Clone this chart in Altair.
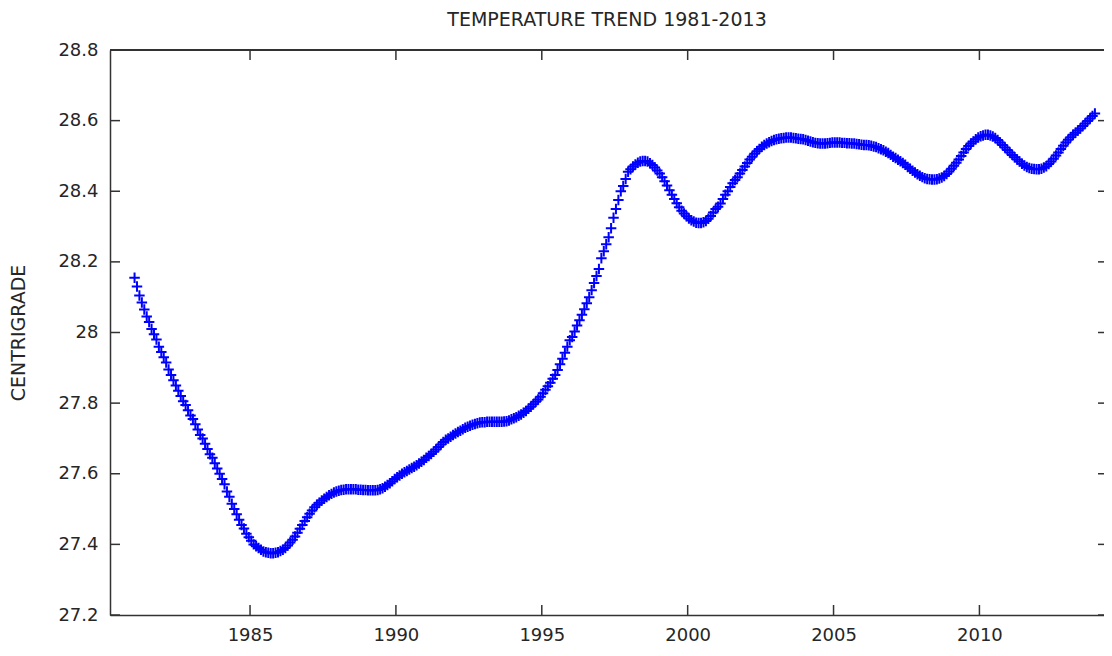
import altair as alt
import pandas as pd

# Monthly values, one row per year (Jan..Dec)
years = list(range(1981, 2014))
monthly = [
    [28.155, 28.13, 28.105, 28.085, 28.065, 28.045, 28.03, 28.01, 27.995, 27.98, 27.96, 27.945],  # 1981
    [27.93, 27.915, 27.895, 27.88, 27.865, 27.85, 27.835, 27.82, 27.805, 27.795, 27.78, 27.765],  # 1982
    [27.755, 27.74, 27.725, 27.71, 27.70, 27.685, 27.67, 27.655, 27.645, 27.63, 27.615, 27.60],  # 1983
    [27.585, 27.57, 27.55, 27.535, 27.515, 27.50, 27.485, 27.47, 27.455, 27.445, 27.43, 27.42],  # 1984
    [27.41, 27.40, 27.395, 27.39, 27.385, 27.38, 27.378, 27.376, 27.375, 27.375, 27.376, 27.378],  # 1985
    [27.381, 27.385, 27.39, 27.397, 27.405, 27.413, 27.422, 27.433, 27.444, 27.455, 27.466, 27.477],  # 1986
    [27.487, 27.496, 27.505, 27.512, 27.518, 27.524, 27.529, 27.534, 27.539, 27.543, 27.547, 27.55],  # 1987
    [27.552, 27.554, 27.555, 27.556, 27.556, 27.556, 27.556, 27.556, 27.555, 27.555, 27.554, 27.554],  # 1988
    [27.553, 27.553, 27.553, 27.553, 27.554, 27.556, 27.559, 27.563, 27.568, 27.573, 27.579, 27.585],  # 1989
    [27.59, 27.595, 27.60, 27.604, 27.608, 27.612, 27.616, 27.62, 27.624, 27.629, 27.634, 27.639],  # 1990
    [27.645, 27.65, 27.656, 27.662, 27.669, 27.676, 27.683, 27.69, 27.696, 27.70, 27.705, 27.71],  # 1991
    [27.714, 27.718, 27.722, 27.726, 27.73, 27.733, 27.736, 27.739, 27.741, 27.743, 27.745, 27.746],  # 1992
    [27.746, 27.747, 27.747, 27.747, 27.747, 27.747, 27.747, 27.747, 27.748, 27.749, 27.751, 27.754],  # 1993
    [27.757, 27.76, 27.764, 27.768, 27.773, 27.778, 27.784, 27.79, 27.797, 27.804, 27.81, 27.818],  # 1994
    [27.828, 27.838, 27.848, 27.858, 27.869, 27.88, 27.894, 27.91, 27.926, 27.943, 27.96, 27.978],  # 1995
    [27.987, 28.003, 28.02, 28.035, 28.05, 28.066, 28.083, 28.10, 28.12, 28.14, 28.16, 28.18],  # 1996
    [28.21, 28.23, 28.25, 28.27, 28.295, 28.325, 28.35, 28.375, 28.40, 28.415, 28.435, 28.455],  # 1997
    [28.462, 28.47, 28.476, 28.481, 28.484, 28.486, 28.486, 28.484, 28.479, 28.474, 28.467, 28.459],  # 1998
    [28.45, 28.44, 28.428, 28.416, 28.403, 28.39, 28.378, 28.366, 28.355, 28.345, 28.337, 28.329],  # 1999
    [28.323, 28.318, 28.314, 28.311, 28.31, 28.31, 28.312, 28.316, 28.322, 28.33, 28.34, 28.35],  # 2000
    [28.356, 28.365, 28.378, 28.39, 28.40, 28.412, 28.423, 28.432, 28.44, 28.45, 28.46, 28.47],  # 2001
    [28.48, 28.49, 28.498, 28.506, 28.513, 28.52, 28.526, 28.531, 28.535, 28.539, 28.542, 28.545],  # 2002
    [28.547, 28.549, 28.55, 28.551, 28.552, 28.552, 28.552, 28.551, 28.55, 28.549, 28.548, 28.547],  # 2003
    [28.545, 28.543, 28.541, 28.539, 28.537, 28.536, 28.535, 28.535, 28.535, 28.536, 28.537, 28.538],  # 2004
    [28.538, 28.538, 28.538, 28.537, 28.537, 28.536, 28.536, 28.535, 28.535, 28.534, 28.533, 28.532],  # 2005
    [28.531, 28.531, 28.53, 28.529, 28.527, 28.525, 28.522, 28.519, 28.516, 28.512, 28.508, 28.503],  # 2006
    [28.498, 28.494, 28.489, 28.485, 28.48, 28.475, 28.469, 28.464, 28.458, 28.453, 28.448, 28.444],  # 2007
    [28.44, 28.437, 28.435, 28.434, 28.433, 28.433, 28.434, 28.436, 28.439, 28.443, 28.449, 28.456],  # 2008
    [28.464, 28.472, 28.481, 28.49, 28.5, 28.51, 28.52, 28.528, 28.535, 28.541, 28.547, 28.552],  # 2009
    [28.556, 28.558, 28.56, 28.56, 28.558, 28.555, 28.551, 28.545, 28.538, 28.531, 28.524, 28.517],  # 2010
    [28.51, 28.503, 28.496, 28.49, 28.484, 28.478, 28.473, 28.469, 28.466, 28.464, 28.463, 28.462],  # 2011
    [28.462, 28.464, 28.467, 28.471, 28.477, 28.484, 28.492, 28.501, 28.51, 28.52, 28.529, 28.538],  # 2012
    [28.546, 28.553, 28.56, 28.566, 28.572, 28.578, 28.585, 28.592, 28.599, 28.606, 28.613, 28.62],  # 2013
]

x_ticks = [1985, 1990, 1995, 2000, 2005, 2010]
y_ticks = [27.2, 27.4, 27.6, 27.8, 28.0, 28.2, 28.4, 28.6, 28.8]

rows = []
for yr, vals in zip(years, monthly):
    for m, v in enumerate(vals):
        rows.append({"t": yr + (m + 0.5) / 12.0, "temp": v})
df = pd.DataFrame(rows)

W, H = 994, 565
XDOM = [1980.2, 2014.27]
YDOM = [27.2, 28.8]
TXT = "#262626"
LINE = "#333333"
FONT = "DejaVu Sans"

xs = alt.Scale(domain=XDOM, nice=False, zero=False)
ys = alt.Scale(domain=YDOM, nice=False, zero=False)

points = alt.Chart(df).mark_point(
    shape="M-1,0H1M0,-1V1", filled=False, color="#0000ff",
    strokeWidth=2, size=110, opacity=1, clip=True,
).encode(
    x=alt.X("t:Q", scale=xs, axis=alt.Axis(
        values=x_ticks, format="d", title=None, grid=False, ticks=False,
        tickSize=0, domain=True, domainColor=LINE, domainWidth=1.5,
        labelPadding=11, labelFontSize=18, labelColor=TXT, labelFont=FONT)),
    y=alt.Y("temp:Q", scale=ys, axis=alt.Axis(
        values=y_ticks, format="~g", title="CENTRIGRADE", grid=False,
        ticks=False, tickSize=0, domain=True, domainColor=LINE,
        domainWidth=1.5, labelPadding=12,
        labelFontSize=18, labelColor=TXT, labelFont=FONT,
        titleFontSize=19, titleFontWeight="normal", titleColor=TXT,
        titleFont=FONT, titleX=-92, titleY=H / 2, titleAngle=-90,
        titleAlign="center", titleBaseline="middle")),
)

xt = pd.DataFrame({"v": x_ticks})
yt = pd.DataFrame({"v": y_ticks})

top_line = alt.Chart(xt).mark_rule(color=LINE, strokeWidth=1.5).encode(
    y=alt.value(0), x=alt.value(0), x2=alt.value(W))
xtick_bot = alt.Chart(xt).mark_rule(color=LINE, strokeWidth=1.5).encode(
    x=alt.X("v:Q", scale=xs), y=alt.value(H - 10), y2=alt.value(H))
xtick_top = alt.Chart(xt).mark_rule(color=LINE, strokeWidth=1.5).encode(
    x=alt.X("v:Q", scale=xs), y=alt.value(0), y2=alt.value(10))
ytick_l = alt.Chart(yt).mark_rule(color=LINE, strokeWidth=1.5).encode(
    y=alt.Y("v:Q", scale=ys), x=alt.value(0), x2=alt.value(10))
ytick_r = alt.Chart(yt).mark_rule(color=LINE, strokeWidth=1.5).encode(
    y=alt.Y("v:Q", scale=ys), x=alt.value(W - 6), x2=alt.value(W))

chart = alt.layer(points, top_line, xtick_bot, xtick_top, ytick_l, ytick_r).properties(
    width=W, height=H,
    title=alt.TitleParams("TEMPERATURE TREND 1981-2013", fontSize=19,
                          fontWeight="normal", color=TXT, font=FONT,
                          anchor="middle", offset=11),
    padding={"left": 102, "top": 42, "right": 0, "bottom": 29},
    autosize=alt.AutoSizeParams(type="none"),
).configure_view(strokeOpacity=0).configure_axis(
    labelFont=FONT).resolve_scale(x="shared", y="shared")

chart.save("out.html", embed_options={"renderer": "svg", "actions": False})
